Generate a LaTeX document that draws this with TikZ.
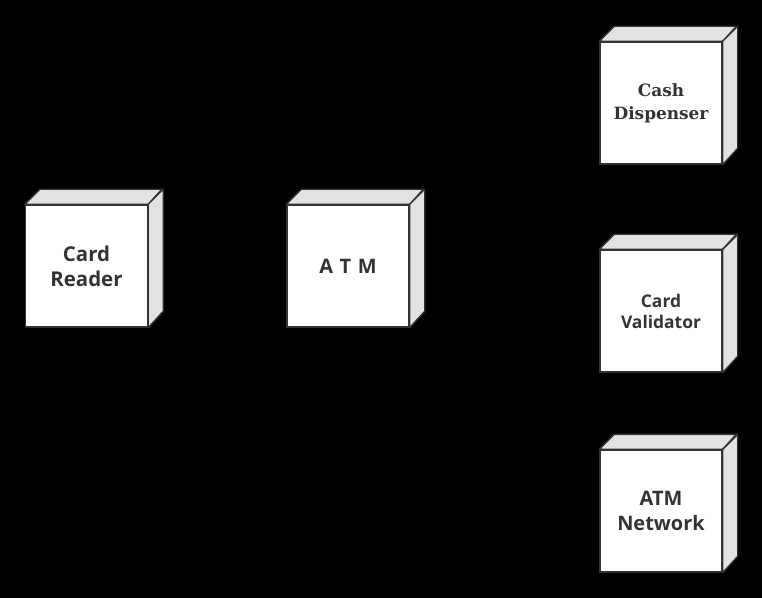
\documentclass[tikz,border=0pt]{standalone}
\usepackage{fontspec}
\setmainfont{Open Sans}
\newfontfamily\serifdn{DejaVu Serif}
\definecolor{edge}{HTML}{333333}
\definecolor{sideface}{HTML}{E2E2E2}
\begin{document}
\begin{tikzpicture}[x=1bp,y=-1bp,
  dnode/.style={draw=edge, line width=1.4bp, fill=white, minimum width=122bp, minimum height=122bp, inner sep=0pt, align=center, text=black!80},
  face/.style={draw=edge, line width=1.4bp, fill=sideface, line join=round}]
\fill[black] (0,0) rectangle (762,598);
\useasboundingbox (0,0) rectangle (762,598);
\node[dnode, font={\bfseries\fontsize{20.5}{25}\selectfont}] (cr) at (86.5,266) {Card\\Reader};
\node[dnode, font={\bfseries\fontsize{20}{25}\selectfont}] (atm) at (348,266) {A\,\,T\,\,M};
\node[dnode, font={\serifdn\bfseries\fontsize{17}{23}\selectfont}] (cd) at (661,103) {Cash\\Dispenser};
\node[dnode, font={\bfseries\fontsize{17.5}{21}\selectfont}] (cv) at (661,311) {Card\\Validator};
\node[dnode, font={\bfseries\fontsize{20}{26}\selectfont}] (an) at (661,511) {ATM\\Network};
\foreach \n in {cr,atm,cd,cv,an}{
  \draw[face] (\n.north west) -- ++(15,-15) -- ++(122,0) -- (\n.north east) -- cycle;
  \draw[face] (\n.north east) -- ++(15,-15) -- ++(0,122) -- (\n.south east) -- cycle;
}
\end{tikzpicture}
\end{document}
